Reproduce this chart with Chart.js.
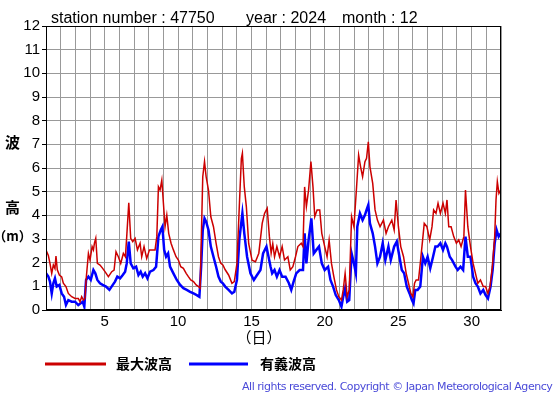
<!DOCTYPE html>
<html><head><meta charset="utf-8">
<script src="https://cdn.jsdelivr.net/npm/chart.js@4"></script>
<style>html,body{margin:0;padding:0;background:#fff;}canvas{display:block;}</style>
</head><body>
<canvas id="c" width="555" height="395"></canvas>
<script>
const titleParts = ["station number : 47750", "year : 2024", "month : 12"];
const dayLabels = [5, 10, 15, 20, 25, 30];
const heightTicks = [0,1,2,3,4,5,6,7,8,9,10,11,12];
const legendLabels = ["最大波高", "有義波高"];

const maxDays = [1.0,1.05,1.16,1.27,1.39,1.5,1.61,1.68,1.77,1.91,2.07,2.18,2.36,2.52,2.75,2.98,3.2,3.32,3.43,3.55,3.66,3.73,3.89,4.0,4.14,4.23,4.3,4.39,4.5,4.68,4.86,5.02,5.25,5.48,5.64,5.77,5.93,6.09,6.27,6.41,6.5,6.64,6.77,6.91,7.07,7.23,7.41,7.52,7.68,7.86,8.05,8.2,8.43,8.55,8.66,8.77,8.89,9.0,9.11,9.23,9.36,9.52,9.68,9.86,10.02,10.18,10.36,10.55,10.7,10.86,11.05,11.23,11.39,11.5,11.59,11.68,11.8,11.91,12.07,12.23,12.41,12.59,12.75,12.91,13.05,13.21,13.44,13.67,13.83,14.01,14.17,14.31,14.38,14.51,14.65,14.81,15.04,15.27,15.5,15.73,15.89,16.07,16.22,16.34,16.45,16.57,16.73,16.91,17.09,17.25,17.48,17.64,17.82,18.0,18.16,18.39,18.51,18.62,18.74,18.89,19.05,19.19,19.31,19.47,19.65,19.79,19.99,20.15,20.29,20.45,20.61,20.79,20.95,21.13,21.25,21.38,21.52,21.66,21.82,21.98,22.16,22.3,22.43,22.57,22.73,22.84,22.96,23.07,23.26,23.42,23.58,23.76,23.99,24.17,24.33,24.56,24.72,24.85,25.01,25.17,25.36,25.54,25.7,25.86,26.0,26.11,26.22,26.38,26.5,26.66,26.77,26.95,27.14,27.3,27.41,27.57,27.71,27.87,28.05,28.21,28.32,28.44,28.6,28.78,28.96,29.12,29.28,29.47,29.58,29.74,29.92,30.1,30.26,30.42,30.6,30.79,30.95,31.11,31.25,31.41,31.57,31.66,31.75,31.86,31.98];
const maxHeights = [2.45,2.46,2.3,1.97,1.55,1.9,1.75,2.28,1.7,1.48,1.4,1.13,0.99,0.7,0.56,0.49,0.49,0.35,0.56,0.42,0.49,1.27,2.39,2.11,2.68,2.54,2.82,3.03,1.97,1.9,1.76,1.62,1.41,1.62,1.69,2.46,2.25,1.97,2.39,2.25,3.1,4.53,3.03,2.89,3.03,2.54,2.82,2.25,2.68,2.18,2.54,2.54,2.54,3.1,5.21,5.07,5.49,4.51,3.52,4.01,3.24,2.82,2.54,2.25,2.11,1.83,1.76,1.55,1.41,1.27,1.2,1.06,0.99,0.92,3.24,5.63,6.27,5.63,5.07,3.94,3.52,2.82,2.25,1.97,1.9,1.7,1.48,1.13,1.2,1.97,4.37,6.4,6.62,5.2,4.37,2.8,2.1,2.04,2.4,3.66,4.08,4.3,3.1,2.4,2.8,2.25,2.68,2.25,2.68,2.11,2.25,1.69,1.83,2.25,2.68,2.82,2.68,5.2,4.37,5.07,6.27,5.2,3.94,4.23,4.23,3.24,2.68,2.25,2.96,1.97,1.41,0.85,0.56,0.42,0.85,1.55,0.56,0.85,3.94,3.52,5.2,6.55,6.06,5.63,6.27,6.41,7.11,6.06,5.35,4.23,3.8,3.52,3.8,3.24,3.52,3.8,3.38,4.65,3.52,2.68,2.25,1.55,1.13,0.7,0.56,1.13,1.27,1.27,1.97,2.96,3.66,3.52,2.96,3.52,4.23,4.08,4.51,4.08,4.51,4.08,4.65,3.52,3.52,3.1,2.82,2.96,2.68,3.1,5.07,3.52,2.68,1.97,1.55,1.13,1.27,0.99,0.99,0.7,0.99,1.83,3.1,4.65,5.42,4.93,5.07];

const sigDays = [1.0,1.05,1.16,1.27,1.39,1.5,1.61,1.73,1.91,2.07,2.23,2.36,2.52,2.75,2.98,3.2,3.36,3.5,3.61,3.73,3.89,4.05,4.23,4.36,4.5,4.68,4.86,5.09,5.32,5.55,5.7,5.86,6.05,6.23,6.39,6.5,6.64,6.77,6.95,7.14,7.3,7.45,7.59,7.75,7.91,8.09,8.32,8.5,8.66,8.82,8.93,9.05,9.18,9.32,9.45,9.68,9.91,10.14,10.36,10.59,10.82,11.05,11.27,11.45,11.57,11.68,11.8,11.91,12.07,12.23,12.41,12.59,12.75,12.91,13.05,13.21,13.44,13.67,13.83,14.01,14.17,14.38,14.51,14.7,14.93,15.16,15.38,15.61,15.79,16.02,16.3,16.41,16.57,16.73,16.91,17.09,17.32,17.55,17.71,17.87,18.05,18.28,18.51,18.62,18.74,18.89,19.08,19.24,19.42,19.6,19.79,19.99,20.22,20.38,20.56,20.74,20.95,21.13,21.25,21.38,21.52,21.66,21.82,21.98,22.11,22.21,22.39,22.57,22.73,22.84,22.96,23.07,23.26,23.42,23.58,23.76,23.94,24.12,24.33,24.49,24.72,24.9,25.08,25.24,25.4,25.58,25.77,25.93,26.04,26.16,26.32,26.5,26.68,26.84,27.0,27.18,27.37,27.53,27.68,27.87,28.05,28.21,28.32,28.51,28.67,28.9,29.05,29.24,29.42,29.58,29.74,29.92,30.1,30.26,30.42,30.6,30.79,30.95,31.11,31.29,31.43,31.57,31.7,31.84,31.98];
const sigHeights = [1.55,1.55,1.41,1.2,0.7,1.13,1.34,0.99,1.06,0.7,0.56,0.21,0.42,0.35,0.35,0.21,0.28,0.35,0.14,1.27,1.41,1.27,1.69,1.55,1.27,1.13,1.06,0.99,0.85,1.06,1.2,1.41,1.34,1.48,1.62,1.97,2.89,1.97,1.76,1.83,1.48,1.62,1.41,1.55,1.34,1.62,1.69,1.83,3.1,3.38,3.52,2.54,2.25,2.39,1.83,1.55,1.27,1.06,0.92,0.85,0.77,0.7,0.63,0.56,1.83,3.38,3.87,3.73,3.38,2.68,2.25,1.83,1.41,1.2,1.13,0.99,0.85,0.7,0.77,1.27,2.96,4.08,3.24,2.25,1.55,1.27,1.48,1.69,2.39,2.68,1.83,1.55,1.69,1.41,1.69,1.41,1.41,1.13,0.85,1.2,1.55,1.69,1.69,3.24,1.97,2.96,3.87,2.39,2.54,2.68,1.97,1.69,1.83,1.27,0.99,0.63,0.42,0.14,0.56,0.92,0.35,0.42,2.39,1.97,1.55,3.52,4.08,3.8,4.01,4.23,4.44,3.66,3.24,2.68,1.97,2.25,2.82,2.11,2.68,2.11,2.68,2.89,2.25,1.69,1.55,0.99,0.7,0.42,0.28,0.85,0.85,0.99,2.25,1.97,2.25,1.76,2.25,2.68,2.68,2.82,2.54,2.82,2.68,2.25,2.11,1.83,1.69,1.83,1.69,3.1,2.25,2.25,1.41,1.13,0.99,0.7,0.85,0.63,0.49,0.99,1.69,2.82,3.38,3.1,3.24];

const toPts = (xs, ys) => xs.map((x, i) => ({x: x, y: ys[i]}));
const TICK_FONT = {family: "'Liberation Sans', Arial, sans-serif", size: 15};
const CJK = "'Noto Sans CJK JP', sans-serif";

const overlay = {
  id: 'overlay',
  afterDraw(chart) {
    const ctx = chart.ctx, a = chart.chartArea;
    ctx.save();
    ctx.strokeStyle = '#000'; ctx.lineWidth = 1;
    ctx.strokeRect(Math.round(a.left) + 0.5, Math.round(a.top) + 0.5, Math.round(a.right - a.left) - 1, Math.round(a.bottom - a.top) - 1);
    ctx.fillStyle = '#000';
    ctx.font = "16px 'Liberation Sans', Arial, sans-serif";
    ctx.textBaseline = 'alphabetic'; ctx.textAlign = 'left';
    ctx.fillText(titleParts[0], 51, 22.5);
    ctx.fillText(titleParts[1], 246, 22.5);
    ctx.fillText(titleParts[2], 342, 22.5);
    ctx.textAlign = 'center'; ctx.textBaseline = 'middle';
    ctx.font = "bold 15px " + CJK;
    ctx.fillText('波', 12.5, 142);
    ctx.fillText('高', 12.5, 207);
    ctx.font = "bold 13px " + CJK;
    ctx.fillText('（m）', 12.5, 236);
    ctx.font = "15px " + CJK;
    ctx.fillText('（日）', 259, 337);
    ctx.lineWidth = 3;
    ctx.strokeStyle = '#cc0000';
    ctx.beginPath(); ctx.moveTo(45, 364); ctx.lineTo(106, 364); ctx.stroke();
    ctx.strokeStyle = '#0000ff';
    ctx.beginPath(); ctx.moveTo(189, 364); ctx.lineTo(248, 364); ctx.stroke();
    ctx.font = "bold 14px " + CJK;
    ctx.textAlign = 'left';
    ctx.fillText(legendLabels[0], 116, 364);
    ctx.fillText(legendLabels[1], 260, 364);
    const cp = 'All rights reserved. Copyright © Japan Meteorological Agency';
    ctx.font = "11px 'DejaVu Sans', sans-serif";
    ctx.fillStyle = '#4a4ad8';
    const w = ctx.measureText(cp).width;
    const target = 311;
    if ('letterSpacing' in ctx) {
      ctx.letterSpacing = ((target - w) / (cp.length - 1)).toFixed(2) + 'px';
      ctx.fillText(cp, 242, 387);
    } else {
      ctx.fillText(cp, 242, 387, target);
    }
    ctx.restore();
  }
};

new Chart(document.getElementById('c'), {
  type: 'line',
  data: {
    datasets: [
      {label: legendLabels[0], data: toPts(maxDays, maxHeights), borderColor: '#cc0000', borderWidth: 1.5, pointRadius: 0, tension: 0, fill: false},
      {label: legendLabels[1], data: toPts(sigDays, sigHeights), borderColor: '#0000ff', borderWidth: 2.5, pointRadius: 0, tension: 0, fill: false}
    ]
  },
  options: {
    responsive: false, animation: false, events: [],
    layout: {padding: {top: 26, right: 54, bottom: 0, left: 0}},
    plugins: {legend: {display: false}, tooltip: {enabled: false}, title: {display: false}},
    scales: {
      x: {
        type: 'linear', min: 1, max: 32,
        afterFit(s) { s.height = 85; },
        ticks: {stepSize: 1, autoSkip: false, maxRotation: 0, color: '#000', font: TICK_FONT, padding: 3,
          callback: v => dayLabels.includes(v) ? String(v) : ''},
        grid: {color: '#999', drawTicks: false},
        border: {color: '#000'}
      },
      y: {
        min: 0, max: 12,
        afterFit(s) { s.width = 46; },
        afterBuildTicks(s) { s.ticks = heightTicks.map(v => ({value: v})); },
        ticks: {color: '#000', font: TICK_FONT, padding: 2},
        grid: {color: '#999', tickLength: 4, tickColor: '#000'},
        border: {color: '#000'}
      }
    }
  },
  plugins: [overlay]
});
</script>
</body></html>
